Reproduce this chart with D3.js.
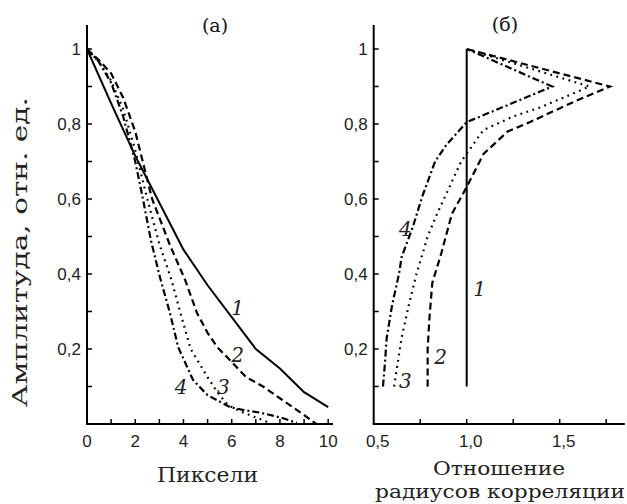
<!DOCTYPE html>
<html><head><meta charset="utf-8">
<script src="https://cdn.jsdelivr.net/npm/d3@7"></script>
<style>body{margin:0;background:#fff}svg{display:block}</style>
</head><body>
<svg id="c" width="627" height="504"></svg>
<script>
// ---- data ----
const leftCurveNames = ["1", "2", "3", "4"];
const leftCurve1 = [[0,1],[1,0.855],[2,0.715],[3,0.59],[4,0.465],[5,0.37],[6,0.285],[7,0.2],[8,0.148],[9,0.085],[10,0.045]];
const leftCurve2 = [[0,1],[0.5,0.97],[1,0.935],[1.5,0.87],[2,0.78],[2.7,0.6],[3.44,0.477],[4.07,0.384],[4.56,0.296],[5,0.243],[5.4,0.205],[5.93,0.17],[6.6,0.125],[7.3,0.1],[8.1,0.064],[9,0.024],[9.5,0]];
const leftCurve3 = [[0,1],[0.5,0.965],[1,0.915],[1.5,0.84],[2,0.73],[2.5,0.6],[3,0.48],[3.5,0.385],[3.9,0.29],[4.3,0.2],[5,0.125],[5.4,0.085],[5.85,0.05],[6.5,0.03],[7.5,0.005]];
const leftCurve4 = [[0,1],[0.5,0.965],[1,0.91],[1.5,0.82],[2,0.7],[2.32,0.6],[2.65,0.49],[3.03,0.39],[3.44,0.296],[3.78,0.205],[4.4,0.117],[5,0.077],[5.93,0.045],[6.5,0.037],[7.2,0.03],[8.1,0.016],[8.7,0.003]];

const rightCurve1 = [[1,0.1],[1,1]];
const rightCurve2 = [[0.79,0.1],[0.79,0.2],[0.8,0.285],[0.815,0.376],[0.864,0.456],[0.92,0.56],[1,0.632],[1.09,0.72],[1.22,0.78],[1.33,0.803],[1.58,0.86],[1.77,0.9],[1,1]];
const rightCurve3 = [[0.61,0.1],[0.625,0.15],[0.65,0.23],[0.69,0.32],[0.73,0.4],[0.79,0.5],[0.84,0.56],[0.9,0.624],[0.97,0.7],[1.09,0.784],[1.25,0.82],[1.4,0.845],[1.66,0.9],[1,1]];
const rightCurve4 = [[0.55,0.1],[0.56,0.16],[0.57,0.23],[0.6,0.32],[0.636,0.4],[0.65,0.445],[0.71,0.525],[0.76,0.605],[0.83,0.7],[0.89,0.744],[1,0.805],[1.46,0.9],[1,1]];

const yTicks = [0.1,0.2,0.3,0.4,0.5,0.6,0.7,0.8,0.9,1];
const yTickLabels = {0.2:"0,2",0.4:"0,4",0.6:"0,6",0.8:"0,8",1:"1"};
const leftXTicks = [1,2,3,4,5,6,7,8,9,10];
const leftXTickLabels = [0,2,4,6,8,10];
const rightXTicks = [0.75,1,1.25,1.5,1.75];
const rightXTickLabels = {0.5:"0,5",1:"1,0",1.5:"1,5"};

const panelTitles = ["(а)", "(б)"];
const yTitle = "Амплитуда, отн. ед.";
const leftXTitle = "Пиксели";
const rightXTitle = ["Отношение", "радиусов корреляции"];

// label positions in data units [curve, x, y]
const leftCurveLabels = [["1",6.25,0.31],["2",6.25,0.185],["3",5.65,0.1],["4",3.9,0.1]];
const rightCurveLabels = [["1",1.07,0.36],["2",0.86,0.18],["3",0.67,0.115],["4",0.67,0.52]];

// ---- drawing ----
const svg = d3.select("#c");
const styles = {
  "1": null,
  "2": "7,4",
  "3": "1.8,4.5",
  "4": "7,3,2,3"
};
const y = d3.scaleLinear().domain([0, 1.064]).range([424, 25]);
const xL = d3.scaleLinear().domain([0, 10.2]).range([87, 333]);
const xR = d3.scaleLinear().domain([0.5, 1.85]).range([373.7, 624.8]);
const numFont = "'Liberation Sans', Arial, sans-serif";
const serif = "'DejaVu Serif', 'Liberation Serif', serif";
const txt = "#222";

function panel(x, xTicks, xlabels, xLabelDx, curves, labels) {
  const g = svg.append("g");
  g.append("line").attr("x1", x.range()[0]).attr("x2", x.range()[0])
    .attr("y1", y(0)).attr("y2", y.range()[1]).attr("stroke", "#000").attr("stroke-width", 2);
  g.append("line").attr("x1", x.range()[0]-1).attr("x2", x.range()[1])
    .attr("y1", y(0)).attr("y2", y(0)).attr("stroke", "#000").attr("stroke-width", 2);
  g.selectAll(".yt").data(yTicks).join("line")
    .attr("x1", x.range()[0]).attr("x2", x.range()[0] + 5)
    .attr("y1", d => y(d)).attr("y2", d => y(d)).attr("stroke", "#000").attr("stroke-width", 1.5);
  g.selectAll(".yl").data(Object.keys(yTickLabels)).join("text")
    .attr("x", x.range()[0] - 6).attr("y", d => y(+d) + 6)
    .attr("text-anchor", "end").attr("font-family", numFont).attr("font-size", 17).attr("fill", txt)
    .text(d => yTickLabels[d]);
  g.selectAll(".xt").data(xTicks).join("line")
    .attr("x1", d => x(d)).attr("x2", d => x(d))
    .attr("y1", y(0)).attr("y2", y(0) - 5).attr("stroke", "#000").attr("stroke-width", 1.5);
  g.selectAll(".xl").data(xlabels).join("text")
    .attr("x", d => x(d[0]) + xLabelDx).attr("y", 447)
    .attr("text-anchor", "middle").attr("font-family", numFont).attr("font-size", 17).attr("fill", txt)
    .text(d => d[1]);
  const line = d3.line().x(d => x(d[0])).y(d => y(d[1]));
  curves.forEach((c, i) => {
    const name = leftCurveNames[i];
    g.append("path").attr("d", line(c)).attr("fill", "none").attr("stroke", "#000")
      .attr("stroke-width", name === "1" ? 2 : 2.2)
      .attr("stroke-linejoin", "miter")
      .attr("stroke-dasharray", styles[name]);
  });
  g.selectAll(".cl").data(labels).join("text")
    .attr("x", d => x(d[1])).attr("y", d => y(d[2]) + 7)
    .attr("text-anchor", "middle").attr("font-family", serif).attr("font-style", "italic")
    .attr("font-size", 20).attr("fill", txt).text(d => d[0]);
}

panel(xL, leftXTicks, leftXTickLabels.map(v => [v, String(v)]), 0,
  [leftCurve1, leftCurve2, leftCurve3, leftCurve4], leftCurveLabels);
panel(xR, rightXTicks, Object.keys(rightXTickLabels).map(k => [+k, rightXTickLabels[k]]), 4,
  [rightCurve1, rightCurve2, rightCurve3, rightCurve4], rightCurveLabels);

svg.append("text").attr("x", 215).attr("y", 32).attr("text-anchor", "middle")
  .attr("font-family", serif).attr("font-size", 19).attr("fill", "#111").text(panelTitles[0]);
svg.append("text").attr("x", 505).attr("y", 31).attr("text-anchor", "middle")
  .attr("font-family", serif).attr("font-size", 19).attr("fill", "#111").text(panelTitles[1]);

svg.append("text").attr("x", 157).attr("y", 482).attr("textLength", 101).attr("lengthAdjust", "spacingAndGlyphs")
  .attr("font-family", serif).attr("font-size", 20).attr("fill", txt).text(leftXTitle);
svg.append("text").attr("x", 433).attr("y", 475).attr("textLength", 132).attr("lengthAdjust", "spacingAndGlyphs")
  .attr("font-family", serif).attr("font-size", 18).attr("fill", txt).text(rightXTitle[0]);
svg.append("text").attr("x", 375).attr("y", 498).attr("textLength", 250).attr("lengthAdjust", "spacingAndGlyphs")
  .attr("font-family", serif).attr("font-size", 18).attr("fill", txt).text(rightXTitle[1]);
svg.append("text").attr("transform", "translate(27,407) rotate(-90)")
  .attr("textLength", 310).attr("lengthAdjust", "spacingAndGlyphs")
  .attr("font-family", serif).attr("font-size", 20).attr("fill", txt).text(yTitle);
</script>
</body></html>
